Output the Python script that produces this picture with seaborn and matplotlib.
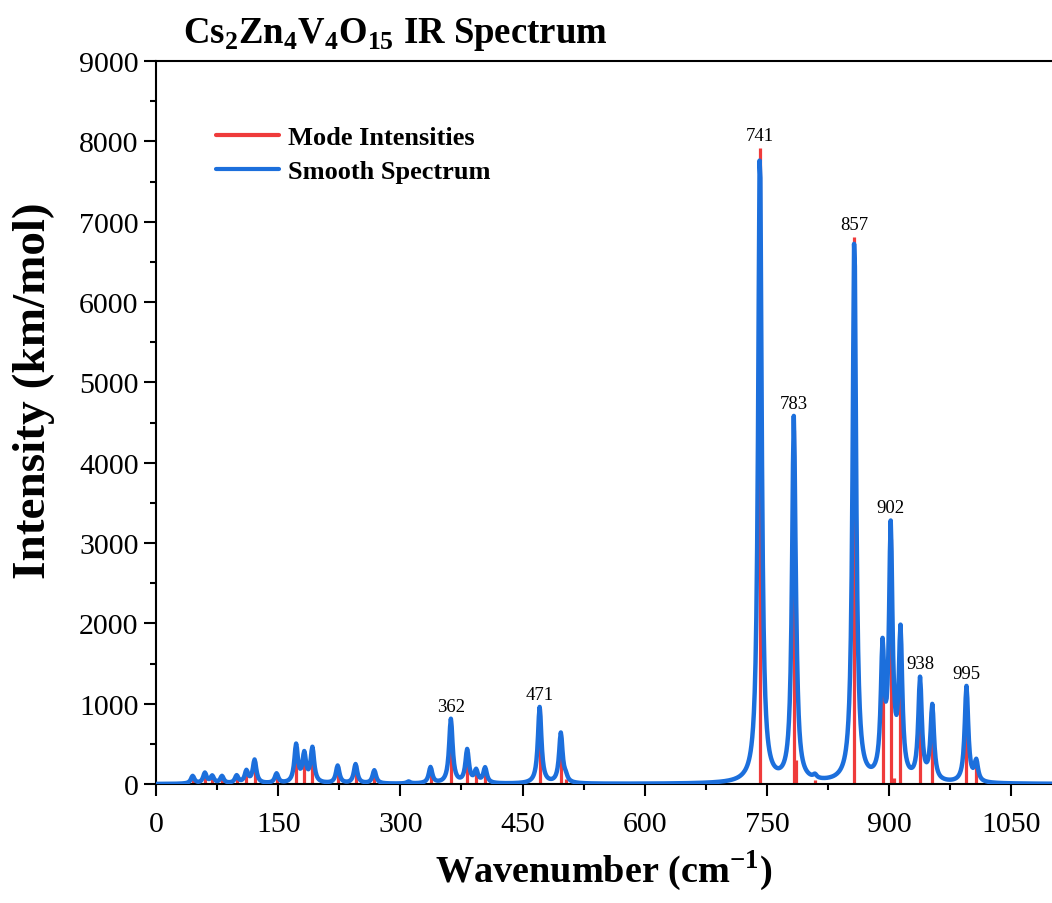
import numpy as np
import pandas as pd
import matplotlib
matplotlib.use("Agg")
import matplotlib.pyplot as plt
from matplotlib.lines import Line2D
from matplotlib.ticker import MultipleLocator
import seaborn as sns

# ---- data ----
mode_wavenumber = [45, 60, 69, 81, 99, 111, 121, 148, 172, 182, 192, 223, 245, 268,
                   310, 337, 362, 382, 393, 404, 471, 497, 503,
                   741.4, 783, 786, 809, 857.35, 892, 902, 906.5, 914, 938, 953, 995, 1007]
mode_intensity = [95, 130, 90, 90, 95, 150, 290, 120, 470, 350, 430, 220, 240, 165,
                  25, 200, 800, 410, 150, 190, 950, 620, 60,
                  7920, 4410, 300, 45, 6810, 1550, 3045, 80, 1780, 1255, 930, 1195, 250]
peak_labels = [362, 471, 741, 783, 857, 902, 938, 995]
x_ticks = [0, 150, 300, 450, 600, 750, 900, 1050]
y_ticks = [0, 1000, 2000, 3000, 4000, 5000, 6000, 7000, 8000, 9000]

red = "#EF3B3B"
blue = "#1C6FDC"

# smooth spectrum: Lorentzian broadening of the modes (HWHM 2.6 cm-1)
hwhm = 2.6
grid = np.arange(0, 1101, 1.0)
modes = pd.DataFrame({"wn": mode_wavenumber, "inten": mode_intensity})
smooth = np.zeros_like(grid)
for w, i in zip(modes.wn, modes.inten):
    smooth += i * hwhm**2 / ((grid - w) ** 2 + hwhm**2)
spec = pd.DataFrame({"wn": grid, "inten": smooth})

sns.set_style("ticks")
plt.rcParams["font.family"] = ["Liberation Serif", "DejaVu Serif"]
plt.rcParams["mathtext.fontset"] = "custom"
plt.rcParams["mathtext.rm"] = "Liberation Serif"
plt.rcParams["mathtext.bf"] = "Liberation Serif:bold"
for k in ["text.color", "axes.labelcolor", "xtick.color", "ytick.color", "axes.edgecolor"]:
    plt.rcParams[k] = "black"

fig = plt.figure(figsize=(10.52, 9.04), dpi=100)
ax = fig.add_axes([0.1483, 0.1316, 0.8517, 0.7998])

ax.vlines(modes.wn, 0, modes.inten, color=red, lw=2.3, zorder=2)
sns.lineplot(data=spec, x="wn", y="inten", ax=ax, color=blue, lw=3.2, zorder=3,
             legend=False)

for p in peak_labels:
    idx = int(np.argmin(np.abs(modes.wn - p)))
    top = max(modes.inten[idx], np.interp(p, grid, smooth))
    ax.annotate(str(p), xy=(p, top), xytext=(0, 3), textcoords="offset points",
                ha="center", va="bottom", fontsize=13.5, family="Liberation Serif",
                color="black")

ax.set_xlim(0, 1100)
ax.set_ylim(0, 9000)
ax.set_xticks(x_ticks)
ax.set_yticks(y_ticks)
ax.xaxis.set_minor_locator(MultipleLocator(75))
ax.yaxis.set_minor_locator(MultipleLocator(500))
ax.tick_params(which="major", direction="out", length=8.5, width=1.5,
               labelsize=21.5, colors="black")
ax.tick_params(which="minor", direction="out", length=4.5, width=1.5, colors="black")
ax.tick_params(axis="x", pad=11)
ax.tick_params(axis="y", pad=4)
for s in ["left", "bottom", "top"]:
    ax.spines[s].set_linewidth(1.5)
    ax.spines[s].set_color("black")
ax.spines["right"].set_visible(False)

ax.set_xlabel("Wavenumber (cm$^{\\mathbf{-1}}$)", fontsize=27.5, fontweight="bold",
              color="black")
ax.set_ylabel("Intensity (km/mol)", fontsize=34, fontweight="bold", color="black")
ax.xaxis.set_label_coords(0.5, -0.088)
ax.yaxis.set_label_coords(-0.113, 0.546)

ax.text(0.03, 1.026,
        "Cs$_\\mathbf{2}$Zn$_\\mathbf{4}$V$_\\mathbf{4}$O$_\\mathbf{15}$ IR Spectrum",
        transform=ax.transAxes, fontsize=26.5, fontweight="bold", va="baseline",
        ha="left", color="black")

handles = [Line2D([], [], color=red, lw=3), Line2D([], [], color=blue, lw=3)]
leg = ax.legend(handles, ["Mode Intensities", "Smooth Spectrum"], loc="upper left",
                bbox_to_anchor=(0.055, 0.925), frameon=False, handlelength=2.4,
                handletextpad=0.35, labelspacing=0.4, borderaxespad=0,
                prop={"family": "Liberation Serif", "weight": "bold", "size": 19})
for t in leg.get_texts():
    t.set_color("black")

fig.savefig("out.png", dpi=100)
